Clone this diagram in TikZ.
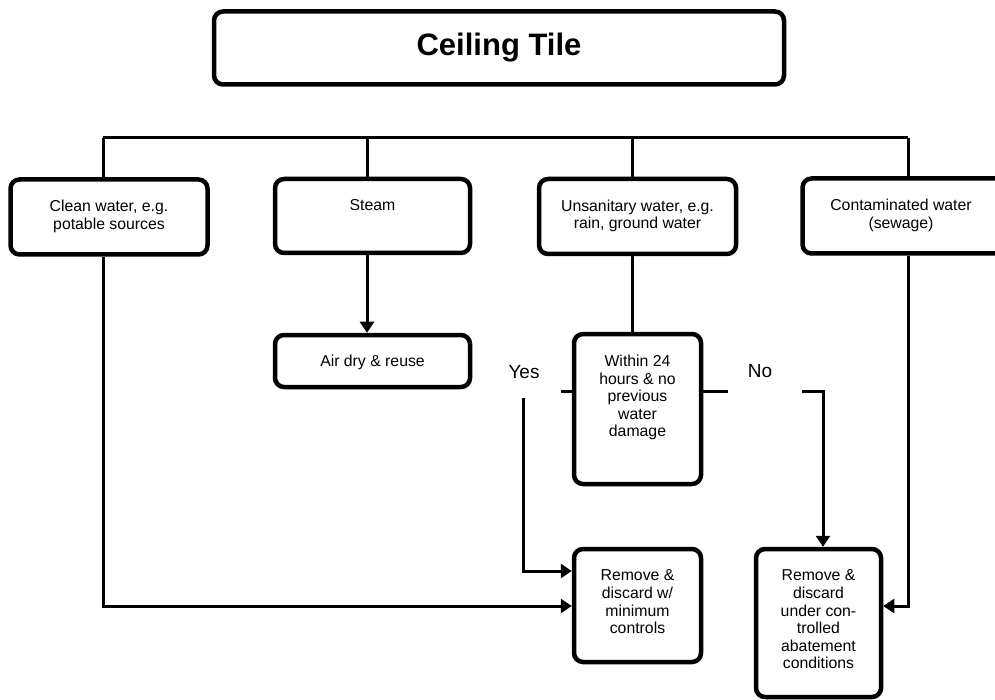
\documentclass[tikz,border=0pt]{standalone}
\usepackage{fontspec}
\setmainfont{Liberation Sans}
\usetikzlibrary{arrows.meta,positioning}
\begin{document}
\begin{tikzpicture}[x=1pt,y=-1pt,
  box/.style={draw, line width=4.5pt, rounded corners=9pt, inner sep=0pt},
  lbl/.style={align=center, inner sep=0pt, font=\fontsize{15.8}{17.6}\selectfont},
  wire/.style={line width=3pt},
  arr/.style={wire, -{Triangle[length=11pt,width=14pt]}},
  ans/.style={font=\fontsize{19}{22}\selectfont, inner sep=0pt}]
\useasboundingbox (0,0) rectangle (995,700);
\clip (0,0) rectangle (995,700);

% title
\node[box, minimum width=570pt, minimum height=73pt] (title) at (499,48)
  {\fontsize{31}{36}\selectfont\bfseries Ceiling Tile};

% water categories
\node[box, minimum width=197pt, minimum height=75pt] (clean)  at (109,217) {};
\node[box, minimum width=195pt, minimum height=74pt] (steam)  at (372.5,216) {};
\node[box, minimum width=197pt, minimum height=75pt] (unsan)  at (637.5,216.5) {};
\node[box, minimum width=207pt, minimum height=75pt] (contam) at (906,216) {};

% outcomes
\node[box, minimum width=195pt, minimum height=52pt]  (airdry)  at (372.5,361) {};
\node[box, minimum width=127pt, minimum height=150pt] (within)  at (637.5,409) {};
\node[box, minimum width=127pt, minimum height=113pt] (remove1) at (637.5,605.5) {};
\node[box, minimum width=125pt, minimum height=148pt] (remove2) at (818.5,623) {};

% box texts, hung from the top edge
\node[lbl, below=23pt of clean.north]   (tclean)   {Clean water, e.g.\\potable sources};
\node[lbl, below=23pt of steam.north]   (tsteam)   {Steam};
\node[lbl, below=23pt of unsan.north]   (tunsan)   {Unsanitary water, e.g.\\rain, ground water};
\node[lbl, below=23pt of contam.north, xshift=-5pt] (tcontam) {Contaminated water\\(sewage)};
\node[lbl, below=22pt of airdry.north]  (tairdry)  {Air dry \& reuse};
\node[lbl, below=23pt of within.north]  (twithin)  {Within 24\\hours \& no\\previous\\water\\damage};
\node[lbl, below=23pt of remove1.north] (tremove1) {Remove \&\\discard w/\\minimum\\controls};
\node[lbl, below=23pt of remove2.north] (tremove2) {Remove \&\\discard\\under con-\\trolled\\abatement\\conditions};

% answers
\node[ans] (yes) at (524,372) {Yes};
\node[ans] (no)  at (760,371) {No};

% distribution bus under the title
\coordinate (bus1) at (103,138);
\coordinate (bus2) at (367,138);
\coordinate (bus3) at (632,138);
\coordinate (bus4) at (908,138);
\draw[wire] (bus1) -- (bus4);
\draw[wire] (bus1) -- (bus1 |- clean.north);
\draw[wire] (bus2) -- (bus2 |- steam.north);
\draw[wire] (bus3) -- (bus3 |- unsan.north);
\draw[wire] (bus4) -- (bus4 |- contam.north);

% steam
\draw[arr] (bus2 |- steam.south) -- (bus2 |- airdry.north);

% unsanitary water decision
\draw[wire] (bus3 |- unsan.south) -- (bus3 |- within.north);
\coordinate (yesend) at (561,391);
\coordinate (noend)  at (728,391);
\draw[wire] (within.west |- yesend) -- (yesend);
\draw[wire] (within.east |- noend) -- (noend);

\coordinate (yestop) at (523,398);
\coordinate (yesrow) at (0,571);
\draw[arr] (yestop) |- (remove1.west |- yesrow);

\coordinate (nostart) at (802,391);
\coordinate (nodrop)  at (823,391);
\draw[arr] (nostart) -- (nodrop) -- (nodrop |- remove2.north);

% clean and contaminated water
\coordinate (lowrow) at (0,606);
\draw[arr] (bus1 |- clean.south) |- (remove1.west |- lowrow);
\draw[arr] (bus4 |- contam.south) |- (remove2.east |- lowrow);
\end{tikzpicture}
\end{document}
